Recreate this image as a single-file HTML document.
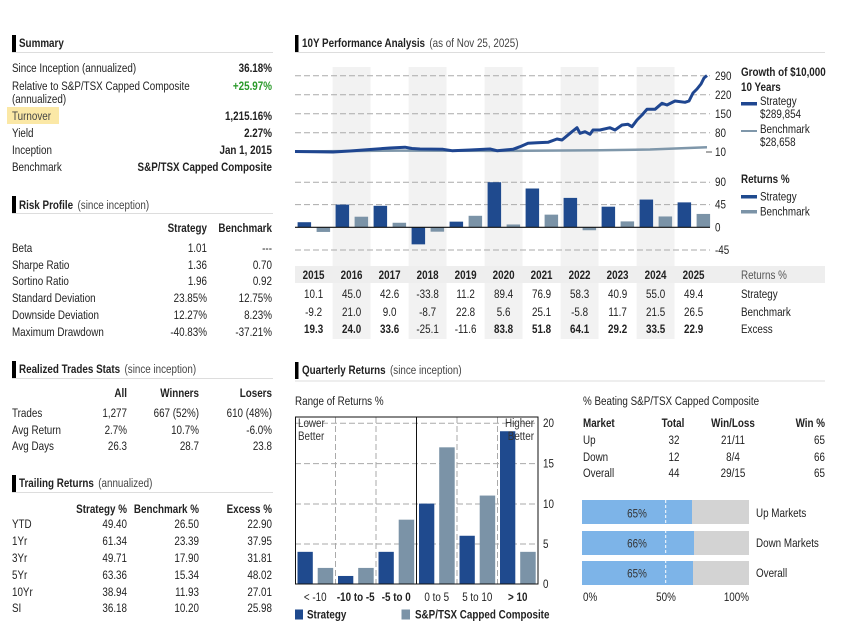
<!DOCTYPE html>
<html><head><meta charset="utf-8"><style>
html,body{margin:0;padding:0;background:#fff;}
svg{display:block;font-family:"Liberation Sans",Arial,sans-serif;font-size:12px;fill:#222;}
.b{font-weight:bold}
.e{text-anchor:end}
.m{text-anchor:middle}
.g{fill:#444}
.dash{stroke:#aaa;stroke-width:1;stroke-dasharray:6 3;fill:none}
</style></head><body>
<svg width="862" height="627" viewBox="0 0 862 627" xmlns="http://www.w3.org/2000/svg">
<!-- ============ SHAPES ============ -->
<rect x="7" y="107" width="52" height="17" fill="#fbe8a6"/>
<rect x="12" y="35" width="4" height="17" fill="#000"/>
<line x1="12" y1="52.5" x2="273" y2="52.5" stroke="#ddd"/>
<rect x="12" y="196" width="4" height="17" fill="#000"/>
<line x1="12" y1="213.5" x2="273" y2="213.5" stroke="#ddd"/>
<rect x="12" y="361" width="4" height="17" fill="#000"/>
<line x1="12" y1="378.5" x2="273" y2="378.5" stroke="#ddd"/>
<rect x="12" y="475" width="4" height="17" fill="#000"/>
<line x1="12" y1="492.5" x2="273" y2="492.5" stroke="#ddd"/>

<rect x="295" y="35" width="3.5" height="17" fill="#000"/>
<line x1="295" y1="52.5" x2="825" y2="52.5" stroke="#ddd"/>

<g fill="#f2f2f2">
<rect x="332.6" y="67" width="38" height="272"/>
<rect x="408.6" y="67" width="38" height="272"/>
<rect x="484.6" y="67" width="38" height="272"/>
<rect x="560.6" y="67" width="38" height="272"/>
<rect x="636.6" y="67" width="38" height="272"/>
</g>

<line x1="295" y1="75.7" x2="710" y2="75.7" class="dash"/>
<line x1="295" y1="94.7" x2="710" y2="94.7" class="dash"/>
<line x1="295" y1="113.7" x2="710" y2="113.7" class="dash"/>
<line x1="295" y1="132.7" x2="710" y2="132.7" class="dash"/>
<line x1="706" y1="152" x2="712" y2="152" stroke="#555"/>

<polyline fill="none" stroke="#7f97aa" stroke-width="2.5" points="295,151.5 400,150.6 500,150.9 600,150.2 650,149.5 707,147.3"/>
<polyline fill="none" stroke="#1f4690" stroke-width="3" stroke-linejoin="round" points="295,151.5 315,151.8 333,152 350,151 370,149.5 390,148 405,147.2 412,148.5 420,149 443,149.3 452,150.7 470,150 490,149 497,150.7 513,149.3 520,146.7 528,143.3 537,142.7 548,142.3 557,139 562,140 570,133.3 577,127.7 580,133.3 585,131.7 590,134.3 593,130 600,130 610,127.7 615,130 622,125 628,124.3 632,126.7 637,120 642,115 647,109.3 655,109.3 662,103.3 667,105 675,101 685,102.3 689,101 693,93 697,89 701,84 704,78 707,75.5"/>

<rect x="741" y="102" width="16" height="3.5" fill="#1f4690"/>
<rect x="741" y="130" width="16" height="2" fill="#7f97aa"/>

<line x1="295" y1="182.3" x2="710" y2="182.3" class="dash"/>
<line x1="295" y1="204.6" x2="710" y2="204.6" class="dash"/>
<line x1="295" y1="250" x2="710" y2="250" class="dash"/>

<g fill="#1f4a8e">
<rect x="297.6" y="222.21" width="13.5" height="5.09"/>
<rect x="335.6" y="204.6" width="13.5" height="22.7"/>
<rect x="373.6" y="205.81" width="13.5" height="21.49"/>
<rect x="411.6" y="227.3" width="13.5" height="17.05"/>
<rect x="449.6" y="221.65" width="13.5" height="5.65"/>
<rect x="487.6" y="182.21" width="13.5" height="45.09"/>
<rect x="525.6" y="188.51" width="13.5" height="38.79"/>
<rect x="563.6" y="197.89" width="13.5" height="29.41"/>
<rect x="601.6" y="206.67" width="13.5" height="20.63"/>
<rect x="639.6" y="199.56" width="13.5" height="27.74"/>
<rect x="677.6" y="202.38" width="13.5" height="24.92"/>
</g>
<g fill="#7b93a7">
<rect x="316.6" y="227.3" width="13.5" height="4.64"/>
<rect x="354.6" y="216.71" width="13.5" height="10.59"/>
<rect x="392.6" y="222.76" width="13.5" height="4.54"/>
<rect x="430.6" y="227.3" width="13.5" height="4.39"/>
<rect x="468.6" y="215.8" width="13.5" height="11.5"/>
<rect x="506.6" y="224.48" width="13.5" height="2.82"/>
<rect x="544.6" y="214.64" width="13.5" height="12.66"/>
<rect x="582.6" y="227.3" width="13.5" height="2.93"/>
<rect x="620.6" y="221.4" width="13.5" height="5.9"/>
<rect x="658.6" y="216.46" width="13.5" height="10.84"/>
<rect x="696.6" y="213.93" width="13.5" height="13.37"/>
</g>
<line x1="295" y1="227.3" x2="710" y2="227.3" stroke="#111" stroke-width="1.2"/>
<rect x="741" y="195" width="16" height="3.5" fill="#1f4a8e"/>
<rect x="741" y="210" width="16" height="3.5" fill="#7b93a7"/>

<rect x="295" y="266" width="530" height="17" fill="#eeeeee"/>

<rect x="295" y="362" width="3.5" height="17" fill="#000"/>
<line x1="295" y1="381" x2="825" y2="381" stroke="#ddd"/>

<line x1="295" y1="423.2" x2="538" y2="423.2" class="dash"/>
<line x1="295" y1="463.6" x2="538" y2="463.6" class="dash"/>
<line x1="295" y1="504" x2="538" y2="504" class="dash"/>
<line x1="295" y1="544" x2="538" y2="544" class="dash"/>
<line x1="335.5" y1="417" x2="335.5" y2="584" class="dash"/>
<line x1="376" y1="417" x2="376" y2="584" class="dash"/>
<line x1="457" y1="417" x2="457" y2="584" class="dash"/>
<line x1="497.5" y1="417" x2="497.5" y2="584" class="dash"/>

<g fill="#1f4a8e">
<rect x="297.5" y="551.84" width="15.3" height="32.16"/>
<rect x="338" y="575.96" width="15.3" height="8.04"/>
<rect x="378.5" y="551.84" width="15.3" height="32.16"/>
<rect x="419" y="503.6" width="15.3" height="80.4"/>
<rect x="459.5" y="535.76" width="15.3" height="48.24"/>
<rect x="500" y="431.24" width="15.3" height="152.76"/>
</g>
<g fill="#7b93a7">
<rect x="317.7" y="567.92" width="15.5" height="16.08"/>
<rect x="358.2" y="567.92" width="15.5" height="16.08"/>
<rect x="398.7" y="519.68" width="15.5" height="64.32"/>
<rect x="439.2" y="447.32" width="15.5" height="136.68"/>
<rect x="479.7" y="495.56" width="15.5" height="88.44"/>
<rect x="520.2" y="551.84" width="15.5" height="32.16"/>
</g>
<rect x="295.5" y="417" width="242.5" height="167" fill="none" stroke="#111" stroke-width="1"/>
<line x1="416.5" y1="417" x2="416.5" y2="584" stroke="#111" stroke-width="1"/>

<rect x="295" y="609.5" width="8" height="10" fill="#1f4a8e"/>
<rect x="401.5" y="609.5" width="8.5" height="10" fill="#7b93a7"/>

<rect x="582" y="500" width="167" height="24" fill="#d3d3d3"/>
<rect x="582" y="500" width="110" height="24" fill="#7db4e8"/>
<rect x="582" y="531" width="167" height="24" fill="#d3d3d3"/>
<rect x="582" y="531" width="112" height="24" fill="#7db4e8"/>
<rect x="582" y="561" width="167" height="24" fill="#d3d3d3"/>
<rect x="582" y="561" width="111" height="24" fill="#7db4e8"/>
<line x1="665.7" y1="500" x2="665.7" y2="585" stroke="#fff" stroke-width="1" stroke-dasharray="3 2"/>

<!-- ============ TEXT (condensed via scale) ============ -->
<g transform="scale(0.82 1)">
<text x="23.171" y="47" class="b">Summary</text>
<text x="14.634" y="72">Since Inception (annualized)</text><text x="331.707" y="72" class="b e">36.18%</text>
<text x="14.634" y="90">Relative to S&amp;P/TSX Capped Composite</text><text x="331.707" y="90" class="b e" style="fill:#2a9a2a">+25.97%</text>
<text x="14.634" y="103">(annualized)</text>
<text x="14.634" y="120" style="fill:#444">Turnover</text><text x="331.707" y="120" class="b e">1,215.16%</text>
<text x="14.634" y="137">Yield</text><text x="331.707" y="137" class="b e">2.27%</text>
<text x="14.634" y="154">Inception</text><text x="331.707" y="154" class="b e">Jan 1, 2015</text>
<text x="14.634" y="171">Benchmark</text><text x="331.707" y="171" class="b e">S&amp;P/TSX Capped Composite</text>

<text x="23.171" y="209"><tspan class="b">Risk Profile</tspan><tspan class="g" dx="2"> (since inception)</tspan></text>
<text x="252.439" y="232" class="b e">Strategy</text><text x="331.707" y="232" class="b e">Benchmark</text>
<text x="14.634" y="252">Beta</text><text x="252.439" y="252" class="e">1.01</text><text x="331.707" y="252" class="e">---</text>
<text x="14.634" y="269">Sharpe Ratio</text><text x="252.439" y="269" class="e">1.36</text><text x="331.707" y="269" class="e">0.70</text>
<text x="14.634" y="285">Sortino Ratio</text><text x="252.439" y="285" class="e">1.96</text><text x="331.707" y="285" class="e">0.92</text>
<text x="14.634" y="302">Standard Deviation</text><text x="252.439" y="302" class="e">23.85%</text><text x="331.707" y="302" class="e">12.75%</text>
<text x="14.634" y="319">Downside Deviation</text><text x="252.439" y="319" class="e">12.27%</text><text x="331.707" y="319" class="e">8.23%</text>
<text x="14.634" y="336">Maximum Drawdown</text><text x="252.439" y="336" class="e">-40.83%</text><text x="331.707" y="336" class="e">-37.21%</text>

<text x="23.171" y="373"><tspan class="b">Realized Trades Stats</tspan><tspan class="g" dx="2"> (since inception)</tspan></text>
<text x="154.878" y="397" class="b e">All</text><text x="242.683" y="397" class="b e">Winners</text><text x="331.707" y="397" class="b e">Losers</text>
<text x="14.634" y="417">Trades</text><text x="154.878" y="417" class="e">1,277</text><text x="242.683" y="417" class="e">667 (52%)</text><text x="331.707" y="417" class="e">610 (48%)</text>
<text x="14.634" y="434">Avg Return</text><text x="154.878" y="434" class="e">2.7%</text><text x="242.683" y="434" class="e">10.7%</text><text x="331.707" y="434" class="e">-6.0%</text>
<text x="14.634" y="450">Avg Days</text><text x="154.878" y="450" class="e">26.3</text><text x="242.683" y="450" class="e">28.7</text><text x="331.707" y="450" class="e">23.8</text>

<text x="23.171" y="487"><tspan class="b">Trailing Returns</tspan><tspan class="g" dx="2"> (annualized)</tspan></text>
<text x="154.878" y="513" class="b e">Strategy %</text><text x="242.683" y="513" class="b e">Benchmark %</text><text x="331.707" y="513" class="b e">Excess %</text>
<text x="14.634" y="528">YTD</text><text x="154.878" y="528" class="e">49.40</text><text x="242.683" y="528" class="e">26.50</text><text x="331.707" y="528" class="e">22.90</text>
<text x="14.634" y="545">1Yr</text><text x="154.878" y="545" class="e">61.34</text><text x="242.683" y="545" class="e">23.39</text><text x="331.707" y="545" class="e">37.95</text>
<text x="14.634" y="562">3Yr</text><text x="154.878" y="562" class="e">49.71</text><text x="242.683" y="562" class="e">17.90</text><text x="331.707" y="562" class="e">31.81</text>
<text x="14.634" y="579">5Yr</text><text x="154.878" y="579" class="e">63.36</text><text x="242.683" y="579" class="e">15.34</text><text x="331.707" y="579" class="e">48.02</text>
<text x="14.634" y="596">10Yr</text><text x="154.878" y="596" class="e">38.94</text><text x="242.683" y="596" class="e">11.93</text><text x="331.707" y="596" class="e">27.01</text>
<text x="14.634" y="612">SI</text><text x="154.878" y="612" class="e">36.18</text><text x="242.683" y="612" class="e">10.20</text><text x="331.707" y="612" class="e">25.98</text>

<text x="368.293" y="47"><tspan class="b">10Y Performance Analysis</tspan><tspan class="g" dx="2"> (as of Nov 25, 2025)</tspan></text>
<text x="871.951" y="80">290</text>
<text x="871.951" y="99">220</text>
<text x="871.951" y="118">150</text>
<text x="871.951" y="137">80</text>
<text x="871.951" y="156">10</text>
<text x="903.659" y="76" class="b">Growth of $10,000</text>
<text x="903.659" y="91" class="b">10 Years</text>
<text x="926.829" y="105">Strategy</text>
<text x="926.829" y="118">$289,854</text>
<text x="926.829" y="133">Benchmark</text>
<text x="926.829" y="146">$28,658</text>

<text x="871.951" y="186">90</text>
<text x="871.951" y="208.6">45</text>
<text x="871.951" y="231.3">0</text>
<text x="871.951" y="254">-45</text>
<text x="903.659" y="183" class="b">Returns %</text>
<text x="926.829" y="200.7">Strategy</text>
<text x="926.829" y="215.7">Benchmark</text>

<text x="382.439" y="279" class="b m">2015</text>
<text x="428.780" y="279" class="b m">2016</text>
<text x="475.122" y="279" class="b m">2017</text>
<text x="521.463" y="279" class="b m">2018</text>
<text x="567.805" y="279" class="b m">2019</text>
<text x="614.146" y="279" class="b m">2020</text>
<text x="660.488" y="279" class="b m">2021</text>
<text x="706.829" y="279" class="b m">2022</text>
<text x="753.171" y="279" class="b m">2023</text>
<text x="799.512" y="279" class="b m">2024</text>
<text x="845.854" y="279" class="b m">2025</text>
<text x="903.659" y="279" style="fill:#555">Returns %</text>

<text x="382.439" y="298" class="m">10.1</text>
<text x="428.780" y="298" class="m">45.0</text>
<text x="475.122" y="298" class="m">42.6</text>
<text x="521.463" y="298" class="m">-33.8</text>
<text x="567.805" y="298" class="m">11.2</text>
<text x="614.146" y="298" class="m">89.4</text>
<text x="660.488" y="298" class="m">76.9</text>
<text x="706.829" y="298" class="m">58.3</text>
<text x="753.171" y="298" class="m">40.9</text>
<text x="799.512" y="298" class="m">55.0</text>
<text x="845.854" y="298" class="m">49.4</text>
<text x="903.659" y="298">Strategy</text>

<text x="382.439" y="316" class="m">-9.2</text>
<text x="428.780" y="316" class="m">21.0</text>
<text x="475.122" y="316" class="m">9.0</text>
<text x="521.463" y="316" class="m">-8.7</text>
<text x="567.805" y="316" class="m">22.8</text>
<text x="614.146" y="316" class="m">5.6</text>
<text x="660.488" y="316" class="m">25.1</text>
<text x="706.829" y="316" class="m">-5.8</text>
<text x="753.171" y="316" class="m">11.7</text>
<text x="799.512" y="316" class="m">21.5</text>
<text x="845.854" y="316" class="m">26.5</text>
<text x="903.659" y="316">Benchmark</text>

<text x="382.439" y="333" class="b m">19.3</text>
<text x="428.780" y="333" class="b m">24.0</text>
<text x="475.122" y="333" class="b m">33.6</text>
<text x="521.463" y="333" class="m">-25.1</text>
<text x="567.805" y="333" class="m">-11.6</text>
<text x="614.146" y="333" class="b m">83.8</text>
<text x="660.488" y="333" class="b m">51.8</text>
<text x="706.829" y="333" class="b m">64.1</text>
<text x="753.171" y="333" class="b m">29.2</text>
<text x="799.512" y="333" class="b m">33.5</text>
<text x="845.854" y="333" class="b m">22.9</text>
<text x="903.659" y="333">Excess</text>

<text x="368.293" y="374"><tspan class="b">Quarterly Returns</tspan><tspan class="g" dx="2"> (since inception)</tspan></text>
<text x="359.756" y="405">Range of Returns %</text>
<text x="363.415" y="427" style="fill:#333">Lower</text>
<text x="363.415" y="440" style="fill:#333">Better</text>
<text x="651.220" y="427" class="e" style="fill:#333">Higher</text>
<text x="651.220" y="440" class="e" style="fill:#333">Better</text>
<text x="662.195" y="427">20</text>
<text x="662.195" y="467.6">15</text>
<text x="662.195" y="508">10</text>
<text x="662.195" y="548">5</text>
<text x="662.195" y="588">0</text>
<text x="384.451" y="601" class="m">&lt; -10</text>
<text x="433.841" y="601" class="b m">-10 to -5</text>
<text x="483.232" y="601" class="b m">-5 to 0</text>
<text x="532.622" y="601" class="m">0 to 5</text>
<text x="582.012" y="601" class="m">5 to 10</text>
<text x="631.402" y="601" class="b m">&gt; 10</text>
<text x="374.390" y="618.5" class="b">Strategy</text>
<text x="506.098" y="618.5" class="b">S&amp;P/TSX Capped Composite</text>

<text x="710.976" y="405">% Beating S&amp;P/TSX Capped Composite</text>
<text x="710.976" y="427" class="b">Market</text>
<text x="820.732" y="427" class="b m">Total</text>
<text x="893.902" y="427" class="b m">Win/Loss</text>
<text x="1006.098" y="427" class="b e">Win %</text>
<text x="710.976" y="444">Up</text><text x="821.951" y="444" class="m">32</text><text x="893.902" y="444" class="m">21/11</text><text x="1006.098" y="444" class="e">65</text>
<text x="710.976" y="461">Down</text><text x="821.951" y="461" class="m">12</text><text x="893.902" y="461" class="m">8/4</text><text x="1006.098" y="461" class="e">66</text>
<text x="710.976" y="477">Overall</text><text x="821.951" y="477" class="m">44</text><text x="893.902" y="477" class="m">29/15</text><text x="1006.098" y="477" class="e">65</text>

<text x="776.829" y="517.3" class="m" style="fill:#333">65%</text>
<text x="776.829" y="547.3" class="m" style="fill:#333">66%</text>
<text x="776.829" y="577.3" class="m" style="fill:#333">65%</text>
<text x="921.951" y="517">Up Markets</text>
<text x="921.951" y="547">Down Markets</text>
<text x="921.951" y="577">Overall</text>
<text x="710.976" y="601">0%</text>
<text x="812.195" y="601" class="m">50%</text>
<text x="913.415" y="601" class="e">100%</text>
</g>
</svg>
</body></html>
